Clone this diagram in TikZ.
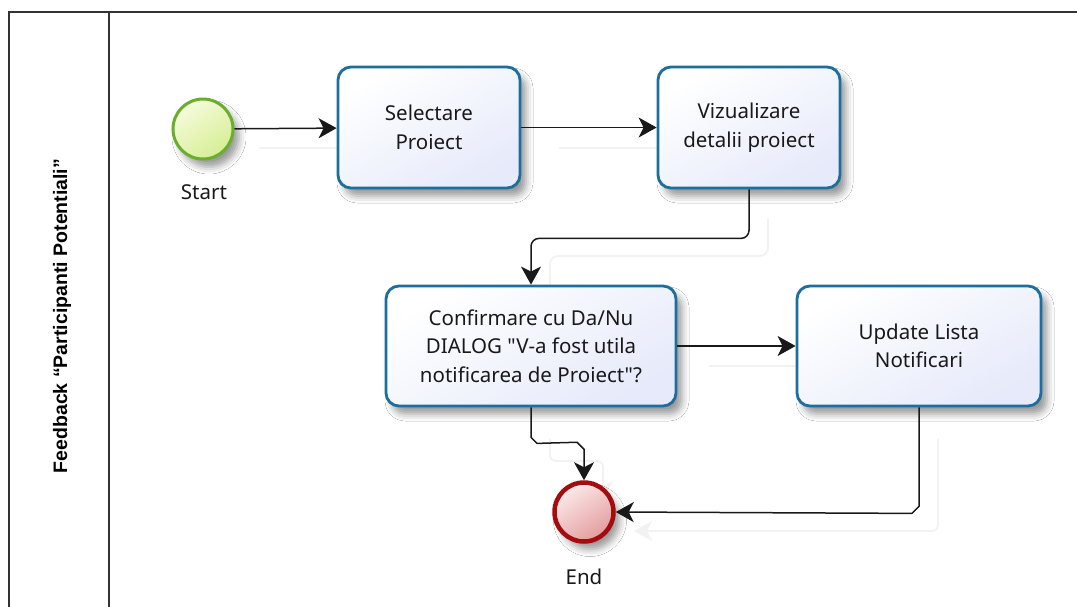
\documentclass[tikz,border=0pt]{standalone}
\usepackage{fontspec}
\setmainfont{Noto Sans}[Ligatures=TeXOff]
\newfontfamily\lanefont{Liberation Sans}[Ligatures=TeXOff]
\usetikzlibrary{arrows.meta,calc,shadows.blur}
\definecolor{taskline}{HTML}{1B6E9E}
\definecolor{taskfillA}{HTML}{FFFFFF}
\definecolor{taskfillB}{HTML}{E6EAFA}
\definecolor{startline}{HTML}{6AAE2E}
\definecolor{startfillA}{HTML}{F6FBDC}
\definecolor{startfillB}{HTML}{D6EE95}
\definecolor{endline}{HTML}{A30D0F}
\definecolor{endfillA}{HTML}{FCEAEA}
\definecolor{endfillB}{HTML}{E39C9E}
\definecolor{poolline}{HTML}{333333}
\definecolor{ghost}{HTML}{F2F2F2}
\tikzset{
  softshadow/.style={blur shadow={shadow xshift=6pt,shadow yshift=-8pt,shadow blur radius=7pt,shadow opacity=40}},
  task/.style={draw=taskline,line width=2.8pt,rounded corners=13pt,
    shading=axis,top color=taskfillA,bottom color=taskfillB,shading angle=30,
    align=center,font=\fontsize{20.5}{28.5}\selectfont,text=black!90,softshadow},
  startev/.style={circle,draw=startline,line width=3pt,minimum size=60pt,inner sep=0pt,
    shading=axis,top color=startfillA,bottom color=startfillB,shading angle=35,softshadow},
  endev/.style={circle,draw=endline,line width=4.5pt,minimum size=59pt,inner sep=0pt,
    shading=axis,top color=endfillA,bottom color=endfillB,shading angle=35,softshadow},
  evlabel/.style={font=\fontsize{20.5}{24}\selectfont,text=black!90},
  flow/.style={draw=black!90,line width=1.5pt,-{Stealth[length=18pt,width=20pt,inset=5pt]}},
  flowghost/.style={draw=ghost,line width=1.8pt,-{Stealth[length=18pt,width=20pt,inset=5pt]}},
  poolrule/.style={draw=poolline,line width=2pt},
}
\begin{document}
\begin{tikzpicture}[x=1pt,y=-1pt]
\useasboundingbox (0,0) rectangle (1077,606);
\fill[white] (0,0) rectangle (1077,606);

% pool and lane header
\draw[poolrule] (1080,12) -- (9,12) -- (9,610);
\draw[poolrule] (109,12) -- (109,610);
\node[rotate=90,font=\lanefont\bfseries\fontsize{19.5}{24}\selectfont] (lane) at (62,316)
  {Feedback “Participanti Potentiali”};

% faint connector shadows
\begin{scope}[shift={(19,19)}]
  \draw[flowghost] (240,129) -- (338,129);
  \draw[flowghost] (540,129) -- (658,129);
  \draw[flowghost,rounded corners=8pt] (749,200) -- (749,237) -- (531,237) -- (531,286);
  \draw[flowghost] (690,347) -- (797,347);
  \draw[flowghost,rounded corners=6pt] (531,420) -- (531,442) -- (584,442) -- (584,480);
  \draw[flowghost,rounded corners=6pt] (919,420) -- (919,512) -- (615,512);
\end{scope}

% events and tasks
\node[startev] (start) at (203,129) {};
\node[evlabel] (startlbl) at (204,192) {Start};

\node[task,minimum width=182pt,minimum height=121pt] (sel) at (429,127.5) {Selectare\\Proiect};
\node[task,minimum width=182pt,minimum height=121pt] (viz) at (749,127.5) {Vizualizare\\detalii proiect};
\node[task,minimum width=290pt,minimum height=120pt] (conf) at (531,346)
  {Confirmare cu Da/Nu\\DIALOG "V-a fost utila\\notificarea de Proiect"?};
\node[task,minimum width=244pt,minimum height=120pt] (upd) at (919,346) {Update Lista\\Notificari};

\node[endev] (endev) at (584,512) {};
\node[evlabel] (endlbl) at (584,577) {End};

% sequence flows
\draw[flow] (start) -- (sel);
\draw[flow] (sel) -- (viz);
\draw[flow,rounded corners=8pt] (viz.south) -- ++(0,49) -| (conf.north);
\draw[flow] (conf.east |- upd.west) -- (upd.west);
\draw[flow] (conf.south) -- ++(0,30) -- ++(6,6) -- ($(endev.north)+(-7,-38)$) -- ($(endev.north)+(0,-31)$) -- (endev.north);
\draw[flow] (upd.south) -- ++(0,99) -- ++(-7,7) -- (endev.east);
\end{tikzpicture}
\end{document}
